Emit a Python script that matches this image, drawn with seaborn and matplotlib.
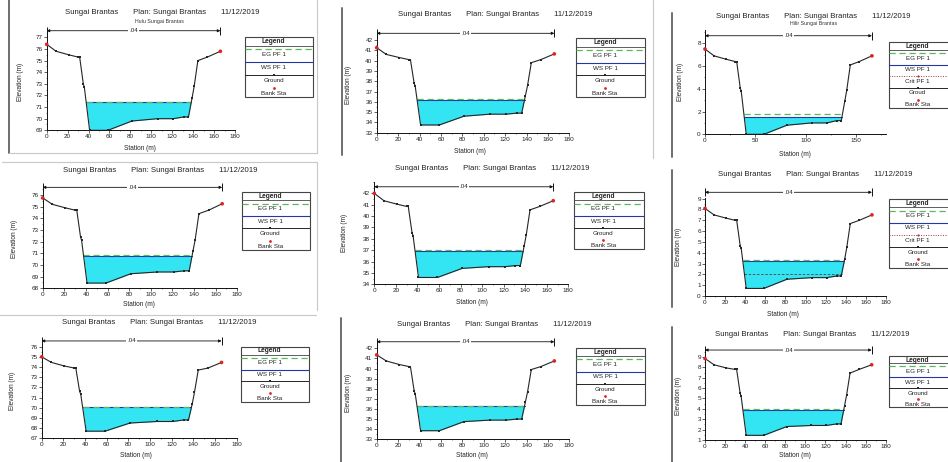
import numpy as np
import matplotlib
matplotlib.use('Agg')
import matplotlib.pyplot as plt
import matplotlib.ticker as ticker
from matplotlib.lines import Line2D
from matplotlib.patches import Rectangle
import seaborn as sns

# HEC-RAS cross sections, Sungai Brantas, 3 x 3 screenshots
STATION = [0, 9, 21, 30, 31.5, 35, 36, 41, 58.5, 81.5, 106, 121, 131, 135.5, 139, 141, 144.5, 153.5, 166]
BANK_IDX = [0, 18]

ELEV_1 = [76.4, 75.8, 75.5, 75.3, 75.3, 73.0, 72.7, 69.0, 69.0, 69.8, 70.0, 70.0, 70.15, 70.15, 71.8, 72.8, 75.0, 75.3, 75.8]
ELEV_2 = [41.25, 40.6, 40.3, 40.1, 40.1, 37.8, 37.5, 33.75, 33.75, 34.6, 34.8, 34.8, 34.9, 34.9, 36.6, 37.6, 39.8, 40.1, 40.65]
ELEV_3 = [7.5, 6.9, 6.6, 6.4, 6.4, 4.1, 3.8, 0.0, 0.0, 0.8, 1.0, 1.0, 1.2, 1.2, 2.9, 3.9, 6.1, 6.4, 6.9]
ELEV_4 = [75.75, 75.2, 74.9, 74.7, 74.7, 72.4, 72.1, 68.45, 68.45, 69.25, 69.4, 69.4, 69.5, 69.5, 71.2, 72.15, 74.4, 74.7, 75.25]
ELEV_5 = [42.0, 41.35, 41.05, 40.85, 40.85, 38.55, 38.25, 34.6, 34.6, 35.4, 35.55, 35.55, 35.65, 35.65, 37.35, 38.35, 40.55, 40.85, 41.35]
ELEV_6 = [8.1, 7.5, 7.2, 7.0, 7.0, 4.65, 4.4, 0.7, 0.7, 1.55, 1.7, 1.7, 1.85, 1.85, 3.45, 4.5, 6.7, 7.0, 7.5]
ELEV_7 = [75.0, 74.45, 74.1, 73.9, 73.9, 71.6, 71.35, 67.7, 67.7, 68.5, 68.65, 68.65, 68.8, 68.8, 70.4, 71.5, 73.7, 73.9, 74.45]
ELEV_8 = [41.35, 40.75, 40.4, 40.2, 40.2, 37.8, 37.5, 33.85, 33.85, 34.75, 34.9, 34.9, 35.0, 35.0, 36.7, 37.7, 39.9, 40.2, 40.75]
ELEV_9 = [8.85, 8.25, 7.95, 7.8, 7.8, 5.5, 5.2, 1.45, 1.45, 2.3, 2.4, 2.4, 2.55, 2.55, 4.3, 5.3, 7.45, 7.8, 8.25]
ELEVS = [ELEV_1, ELEV_2, ELEV_3, ELEV_4, ELEV_5, ELEV_6, ELEV_7, ELEV_8, ELEV_9]

WS_PF1 = [71.4, 36.2, 1.5, 70.8, 36.95, 3.27, 70.05, 36.3, 3.9]
EG_PF1 = [71.43, 36.25, 1.76, 70.85, 37.0, 3.31, 70.09, 36.34, 3.94]
CRIT_PF1 = [None, None, None, None, None, 2.07, None, None, None]
N_VALUE = '.04'

SUBTITLES = ['Hulu Sungai Brantas', '', 'Hilir Sungai Brantas', '', '', '', '', '', '']
YTICKS = [(69, 77, 1), (33, 42, 1), (0, 8, 2), (68, 76, 1), (34, 42, 1),
          (0, 9, 1), (67, 76, 1), (33, 42, 1), (1, 9, 1)]
XTICK_STEP = [20, 20, 50, 20, 20, 20, 20, 20, 20]
GROUND_LABEL = ['Ground', 'Ground', 'Groud', 'Ground', 'Ground', 'Ground', 'Ground', 'Ground', 'Ground']
HAS_CRIT_LEGEND = [False, False, True, False, False, True, False, False, False]

# layout in pixels of the 948 x 462 picture
W, H = 948, 462
# axes: x0, x1, ytop, ybottom, ylim
AX_PX = [
    (46.7, 235.0, 32.7, 130.3, (69, 77.4)),
    (376.7, 569.3, 36.4, 132.7, (33, 42.35)),
    (705.0, 886.0, 29.7, 134.3, (0, 9.2)),
    (42.7, 237.3, 189.2, 288.3, (68, 76.5)),
    (374.3, 568.3, 182.0, 284.3, (34, 43.0)),
    (705.0, 886.0, 197.6, 296.0, (0, 9.1)),
    (41.7, 236.7, 343.6, 438.3, (67, 76.3)),
    (376.7, 569.3, 345.8, 439.3, (33, 42.25)),
    (705.0, 885.7, 351.8, 440.0, (1, 9.5)),
]
BRACKET_Y = [77.57, 42.65, 8.67, 76.66, 42.58, 9.59, 76.56, 42.65, 9.67]
TITLE_PX = [(162, 12), (495, 15), (813, 16), (160, 170), (492, 168), (815, 175),
            (159, 323), (494, 324), (812, 334)]
SUB_PX = [(135, 21), None, (790, 23), None, None, None, None, None, None]
XLABEL_PX = [(140, 148), (470, 151), (795, 155), (139, 305), (472, 302), (783, 315),
             (136, 455.5), (472, 455.5), (795, 455.5)]
YLABEL_X = [20, 349, 680, 15, 345, 678, 13, 349, 679]
LEGEND_PX = [(245, 37, 313, 97), (576, 38, 645, 97), (889, 42, 957, 108),
             (241.7, 191.7, 310, 250), (574, 192, 644, 249), (889, 199, 957, 268),
             (240.7, 346.7, 309.3, 401.7), (576, 347.7, 645, 405), (889, 356, 957, 407.3)]

CYAN = '#33E4F2'
WS_BLUE = '#2238A8'
EG_GREEN = '#5CB85C'
CRIT_RED = '#A03A3A'
GROUND = '#262626'
BANK_RED = '#E02424'
FS_TICK = 4.6
FS_TITLE = 5.6

sns.set_style('white')
plt.rcParams['font.family'] = ['Liberation Sans', 'DejaVu Sans']

fig = plt.figure(figsize=(W / 100, H / 100), dpi=100)


def px_rect(x0, x1, ytop, ybot):
    return [x0 / W, 1 - ybot / H, (x1 - x0) / W, (ybot - ytop) / H]


def water_edges(st, z, level):
    st = np.asarray(st, float)
    z = np.asarray(z, float)
    wet = np.where(z < level)[0]
    i0, i1 = wet[0], wet[-1]
    xl = np.interp(level, [z[i0], z[i0 - 1]], [st[i0], st[i0 - 1]])
    xr = np.interp(level, [z[i1], z[i1 + 1]], [st[i1], st[i1 + 1]])
    return xl, xr


def draw_legend(box, ground_label, with_crit):
    x0, y0, x1, y1 = box
    lax = fig.add_axes(px_rect(x0, x1, y0, y1))
    lax.set_xlim(0, 1)
    lax.set_ylim(1, 0)
    lax.axis('off')
    lax.add_patch(Rectangle((0, 0), 1, 1, fill=False, ec='#444444', lw=0.8,
                            transform=lax.transAxes, clip_on=False))
    sep = 0.12 if with_crit else 0.146
    tx = 0.42
    lax.text(tx, sep / 2 + 0.005, 'Legend', ha='center', va='center',
             fontsize=4.8, fontweight='bold')
    lax.plot([0, 1], [sep, sep], color='#444444', lw=0.6)
    entries = [('EG PF 1', 'eg'), ('WS PF 1', 'ws')]
    if with_crit:
        entries.append(('Crit PF 1', 'crit'))
    entries += [(ground_label, 'ground'), ('Bank Sta', 'bank')]
    pitch = (1 - sep) / len(entries)
    for k, (label, kind) in enumerate(entries):
        yl = sep + pitch * (0.27 + k)
        yt = sep + pitch * (0.7 + k)
        if kind == 'eg':
            lax.plot([0, 1], [yl, yl], color=EG_GREEN, lw=0.9, ls=(0, (5, 3)))
        elif kind == 'ws':
            lax.plot([0, 1], [yl, yl], color=WS_BLUE, lw=0.8)
        elif kind == 'crit':
            lax.plot([0, 1], [yl, yl], color=CRIT_RED, lw=0.7, ls=(0, (1, 1.5)))
            lax.plot([tx], [yl], marker='o', ms=1.6, color=CRIT_RED, mew=0)
        elif kind == 'ground':
            lax.plot([0, 1], [yl, yl], color=GROUND, lw=0.7)
            lax.plot([tx], [yl], marker='s', ms=1.6, color=GROUND, mew=0)
        else:
            lax.plot([tx], [yl], marker='o', ms=2.0, color=BANK_RED, mew=0)
        lax.text(tx, yt, label, ha='center', va='center', fontsize=4.5, color='#222222')


for i in range(9):
    x0, x1, ytop, ybot, ylim = AX_PX[i]
    ax = fig.add_axes(px_rect(x0, x1, ytop, ybot))
    z = np.asarray(ELEVS[i], float)
    st = np.asarray(STATION, float)
    ws = WS_PF1[i]

    # water in the channel
    ax.fill_between(st, z, ws, where=z < ws, interpolate=True, color=CYAN, lw=0, zorder=1)
    xl, xr = water_edges(st, z, ws)
    ax.plot([xl, xr], [ws, ws], color=WS_BLUE, lw=0.8, zorder=3)
    xl_e, xr_e = water_edges(st, z, EG_PF1[i])
    ax.plot([xl_e, xr_e], [EG_PF1[i], EG_PF1[i]], color=EG_GREEN, lw=0.9,
            ls=(0, (5, 3)), zorder=3)
    if CRIT_PF1[i] is not None:
        xl_c, xr_c = water_edges(st, z, CRIT_PF1[i])
        ax.plot([xl_c, xr_c], [CRIT_PF1[i], CRIT_PF1[i]], color='#5A3A3A', lw=0.6,
                ls=(0, (3, 2)), zorder=3)

    # ground profile and bank stations
    sns.lineplot(x=st, y=z, ax=ax, color=GROUND, lw=0.8, marker='s', markersize=1.8,
                 markeredgewidth=0, estimator=None, sort=False, zorder=4)
    sns.scatterplot(x=st[BANK_IDX], y=z[BANK_IDX], ax=ax, color=BANK_RED, s=7,
                    marker='o', edgecolor='none', zorder=5, clip_on=False)

    ax.set_xlim(0, 180)
    ax.set_ylim(*ylim)
    ax.set_xticks(np.arange(0, 181, XTICK_STEP[i]))
    ax.xaxis.set_minor_locator(ticker.MultipleLocator(XTICK_STEP[i] / 2))
    lo, hi, step = YTICKS[i]
    ax.set_yticks(np.arange(lo, hi + 0.001, step))
    ax.yaxis.set_minor_locator(ticker.MultipleLocator(step / 2))
    ax.tick_params(which='major', labelsize=FS_TICK, length=2, width=0.5, pad=1,
                   direction='out', colors='#222222', left=True, bottom=True)
    ax.tick_params(which='minor', length=1, width=0.4, direction='out',
                   left=True, bottom=True)
    for side in ['top', 'right']:
        ax.spines[side].set_visible(False)
    for side in ['left', 'bottom']:
        ax.spines[side].set_color('#111111')
        ax.spines[side].set_linewidth(0.7)
    ax.set_facecolor('none')

    # Manning n bracket between bank stations
    yb = BRACKET_Y[i]
    ax.annotate('', xy=(st[0], yb), xytext=(st[-1], yb),
                arrowprops=dict(arrowstyle='<|-|>', color='#111111', lw=0.6,
                                mutation_scale=4, shrinkA=0, shrinkB=0),
                annotation_clip=False)
    ax.plot([st[0], st[-1]], [yb, yb], ls='none', marker='|', ms=6, mew=0.7,
            color='#111111', clip_on=False)
    ax.text((st[0] + st[-1]) / 2, yb, N_VALUE, ha='center', va='center', fontsize=4.5,
            bbox=dict(fc='white', ec='none', pad=0.6), clip_on=False)

    # axis labels placed from pixel positions
    xlx, xly = XLABEL_PX[i]
    ax.set_xlabel('Station (m)', fontsize=4.7, color='#222222')
    ax.xaxis.set_label_coords((xlx - x0) / (x1 - x0), (ybot - xly) / (ybot - ytop))
    ax.set_ylabel('Elevation (m)', fontsize=4.7, color='#222222')
    ax.yaxis.set_label_coords((YLABEL_X[i] - x0) / (x1 - x0), 0.5)
    ax.xaxis.label.set_va('center')
    ax.yaxis.label.set_va('center')

    cx, cy = TITLE_PX[i]
    fig.text(cx / W, 1 - cy / H, 'Sungai Brantas       Plan: Sungai Brantas       11/12/2019',
             ha='center', va='center', fontsize=FS_TITLE, color='#222222')
    if SUB_PX[i] is not None:
        sx, sy = SUB_PX[i]
        fig.text(sx / W, 1 - sy / H, SUBTITLES[i], ha='left', va='center',
                 fontsize=3.8, color='#333333')

    draw_legend(LEGEND_PX[i], GROUND_LABEL[i], HAS_CRIT_LEGEND[i])

# screenshot borders and separators
dark = dict(color='#6E6E6E', lw=1.4)
light = dict(color='#C8C8C8', lw=0.8)
fig.add_artist(Line2D([9 / W, 9 / W], [1, 1 - 153 / H], **dark))
fig.add_artist(Line2D([9 / W, 316.7 / W], [1 - 153 / H, 1 - 153 / H], **light))
fig.add_artist(Line2D([316.7 / W, 316.7 / W], [1, 1 - 153 / H], **light))
fig.add_artist(Line2D([2 / W, 316.7 / W], [1 - 162.3 / H, 1 - 162.3 / H], **light))
fig.add_artist(Line2D([316.7 / W, 316.7 / W], [1 - 162.3 / H, 1 - 310 / H], **light))
fig.add_artist(Line2D([0, 316 / W], [1 - 315 / H, 1 - 315 / H], **light))
fig.add_artist(Line2D([342 / W, 342 / W], [1 - 8 / H, 1 - 155 / H], **dark))
fig.add_artist(Line2D([340.7 / W, 340.7 / W], [1 - 318 / H, 0], **dark))
fig.add_artist(Line2D([672 / W, 672 / W], [1 - 13 / H, 1 - 157 / H], **dark))
fig.add_artist(Line2D([653 / W, 653 / W], [1, 1 - 158 / H], **light))
fig.add_artist(Line2D([672 / W, 672 / W], [1 - 170 / H, 1 - 307 / H], **dark))
fig.add_artist(Line2D([672 / W, 672 / W], [1 - 327 / H, 0], **dark))

fig.savefig('out.png', dpi=100, facecolor='white')
plt.close(fig)
